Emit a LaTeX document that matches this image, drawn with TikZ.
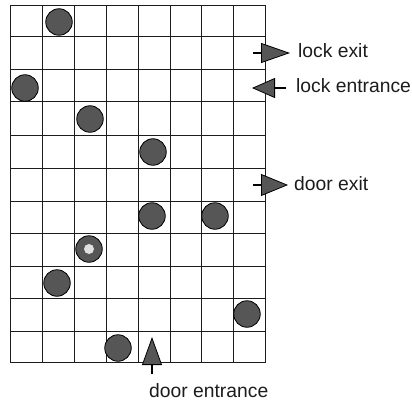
\documentclass[tikz,border=0pt]{standalone}
\usepackage{fontspec}
\setmainfont{Liberation Sans}
\usetikzlibrary{arrows.meta}
\definecolor{disc}{HTML}{565656}
\definecolor{ink}{HTML}{1C1C1C}
\begin{document}
\begin{tikzpicture}[x=1pt,y=-1pt,
  gridline/.style={draw=ink,line width=1.6pt},
  token/.style={circle,inner sep=0pt,minimum size=26.5pt,fill=disc,draw=black,line width=0.8pt},
  hole/.style={circle,inner sep=0pt,minimum size=10pt,fill=black!12,draw=none},
  lbl/.style={inner sep=0pt,anchor=base west,text=ink,font=\fontsize{19.3}{22}\selectfont},
  flow/.style={draw=black,line width=2pt},
]
\useasboundingbox (0,0) rectangle (412,409);
% grid
\foreach \x in {10,42,74,106,138,170,201,233,265} {
  \draw[gridline] (\x+0.5,5) -- (\x+0.5,362.5);
}
\foreach \y in {5,36,69,101,135,168,201,233,266,298,331,362} {
  \draw[gridline] (10,\y+0.5) -- (265.5,\y+0.5);
}
% tokens
\node[token] (c1) at (59,22) {};
\node[token] (c2) at (25,88) {};
\node[token] (c3) at (90,119) {};
\node[token] (c4) at (153,152) {};
\node[token] (c5) at (152,216) {};
\node[token] (c6) at (215,216) {};
\node[token] (c7) at (89,249) {};
\node[hole] (c7h) at (c7) {};
\node[token] (c8) at (57,283) {};
\node[token] (c9) at (247,314) {};
\node[token] (c10) at (118,348) {};
% labels
\node[lbl] (lockexit) at (298,58) {lock exit};
\node[lbl] (lockentr) at (296,93) {lock entrance};
\node[lbl] (doorexit) at (294,190) {door exit};
\node[lbl] (doorentr) at (149,397) {door entrance};
% arrows
\coordinate (lxa) at (253,53);
\coordinate (lxb) at (290,53);
\draw[flow,-{Triangle[length=29pt,width=20pt,fill=disc,line width=0.8pt]}] (lxa) -- (lxb);
\coordinate (lea) at (286,88);
\coordinate (leb) at (252,88);
\draw[flow,-{Triangle[length=23pt,width=20pt,fill=disc,line width=0.8pt]}] (lea) -- (leb);
\coordinate (dxa) at (253,185);
\coordinate (dxb) at (288,185);
\draw[flow,-{Triangle[length=27pt,width=22pt,fill=disc,line width=0.8pt]}] (dxa) -- (dxb);
\coordinate (dea) at (152,374);
\coordinate (deb) at (152,337);
\draw[flow,-{Triangle[length=28pt,width=20pt,fill=disc,line width=0.8pt]}] (dea) -- (deb);
\end{tikzpicture}
\end{document}
